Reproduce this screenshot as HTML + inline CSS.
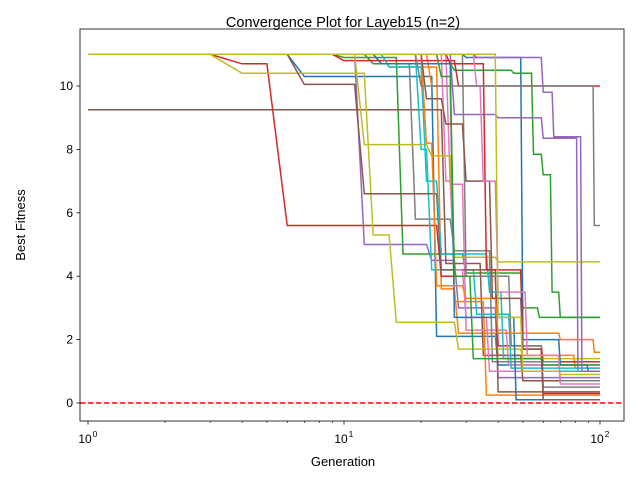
<!DOCTYPE html>
<html><head><meta charset="utf-8"><style>
body{margin:0;background:#fff;}
svg{font-family:"Liberation Sans","DejaVu Sans",sans-serif;}
</style></head><body>
<svg id="chart" width="640" height="480" viewBox="0 0 640 480">
<rect width="640" height="480" fill="#fff"/>
<text x="343" y="27" text-anchor="middle" font-size="14.5">Convergence Plot for Layeb15 (n=2)</text>
<text x="343" y="466" text-anchor="middle" font-size="13">Generation</text>
<text transform="translate(25,225) rotate(-90)" text-anchor="middle" font-size="13">Best Fitness</text>
<g id="series"></g>
<g id="axes"></g>
</svg>
<script>
const colors=["#1f77b4","#ff7f0e","#2ca02c","#d62728","#9467bd","#8c564b","#e377c2","#7f7f7f","#bcbd22","#17becf"];
const yTicks=[0,2,4,6,8,10];
const xTicks=[1,10,100];
const xTickLabels=["0","1","2"];
const series=[
"1:11,7:10.3,23:2.1,40:1.2,60:1.0",
"1:11,15:10.6,24:3.6,28:2.2,40:1.5,80:1.1",
"1:11,10:10.9,17:4.7,30:4.1,50:3.0,58:2.7",
"1:11,4:10.7,6:5.6,24:4.0,40:1.8,60:1.3",
"1:11,12:5.0,22:4.5,28:3.0,40:0.8",
"1:9.25,22:9.25,25:4.4,35:1.5,50:0.7",
"1:11,26:6.9,30:2.3,44:1.2",
"1:11,14:10.7,19:5.8,27:4.8,38:1.3,70:0.7",
"1:11,4:10.4,13:5.3,16:2.55,28:1.7,50:1.4",
"1:11,20:8.0,22:4.2,33:2.8,45:1.1",
"1:11,30:10.9,50:2.0,70:1.2,90:1.0",
"1:11,22:10.0,27:3.2,36:0.25",
"1:11,13:10.7,27:10.5,46:10.4,55:7.85,60:7.2,65:3.5,70:2.7",
"1:11,10:10.8,28:10.0",
"1:11,27:9.1,40:9.0,60:8.35,82:1.0",
"1:11,7:10.05,12:6.6,24:4.2,40:0.35",
"1:11,25:7.0,27:4.2,30:2.7,37:1.0",
"1:11,25:11,30:4.0,45:1.8,60:0.5",
"1:11,12:8.15,22:7.8,27:4.6,40:4.45",
"1:11,15:10.6,21:7.0,24:4.7,37:3.5,42:1.4,60:1.0",
"1:11,14:10.7,27:2.7,47:0.1",
"1:11,21:8.2,23:3.7,30:3.3,40:2.2,70:2.0,95:1.6",
"1:11,24:10.3,27:4.0,32:1.4,60:1.2",
"1:11,26:10.7,36:4.2,50:1.7,60:0.3",
"1:11,33:10.9,60:9.8,66:8.4,85:1.0",
"1:11,21:9.6,25:8.8,30:7.0,38:3.3,50:1.7,60:0.1",
"1:11,33:10,35:7,40:3.5,52:1.5,70:0.6",
"1:11,20:10.0,95:5.6",
"1:11,40:2.7,50:1.0,70:0.9"
];
const L=80,R=624,T=29,B=421;
function xs(g){return 88+256*Math.log10(g);}
function ys(v){return 403-31.7*v;}
const NS="http://www.w3.org/2000/svg";
const sg=document.getElementById('series');
series.forEach((s,i)=>{
  const pts=s.split(',').map(p=>p.split(':').map(Number));
  const coords=[];
  for(let k=0;k<pts.length;k++){
    const [g,v]=pts[k];
    coords.push([g,v]);
    const next=k+1<pts.length?pts[k+1][0]-1:100;
    if(next>g) coords.push([next,v]);
  }
  const pl=document.createElementNS(NS,'polyline');
  pl.setAttribute('points',coords.map(c=>xs(c[0]).toFixed(1)+','+ys(c[1]).toFixed(1)).join(' '));
  pl.setAttribute('fill','none');
  pl.setAttribute('stroke',colors[i%10]);
  pl.setAttribute('stroke-width','1.5');
  
  
  sg.appendChild(pl);
});
const ax=document.getElementById('axes');
function add(tag,attrs,text){const e=document.createElementNS(NS,tag);for(const k in attrs)e.setAttribute(k,attrs[k]);if(text!==undefined)e.textContent=text;ax.appendChild(e);return e;}
const ref=add('line',{x1:L,x2:R,y1:ys(0),y2:ys(0),stroke:'#ff0000','stroke-width':1.5,'stroke-dasharray':'5.5,2.5'});


const frame=add('rect',{x:L,y:T,width:R-L,height:B-T,fill:'none',stroke:'#000','stroke-width':0.8});


yTicks.forEach(v=>{
  add('line',{x1:L-3.5,x2:L,y1:ys(v),y2:ys(v),stroke:'#000','stroke-width':0.8});
  const t=add('text',{x:L-7,y:ys(v)+4,'text-anchor':'end','font-size':'12'},String(v));
  
  
});
xTicks.forEach((g,i)=>{
  add('line',{x1:xs(g),x2:xs(g),y1:B,y2:B+3.5,stroke:'#000','stroke-width':0.8});
  const t=add('text',{x:xs(g)-3,y:B+22,'text-anchor':'middle','font-size':'12'},'10');
  
  
  add('text',{x:xs(g)+7,y:B+16,'text-anchor':'middle','font-size':'8.5'},xTickLabels[i]);
});
[0.1,1,10].forEach(d=>{for(let m=2;m<10;m++){const g=d*m;const x=xs(g);if(x>=L&&x<=R)add('line',{x1:x,x2:x,y1:B,y2:B+2,stroke:'#000','stroke-width':0.6});}});
</script>
</body></html>
